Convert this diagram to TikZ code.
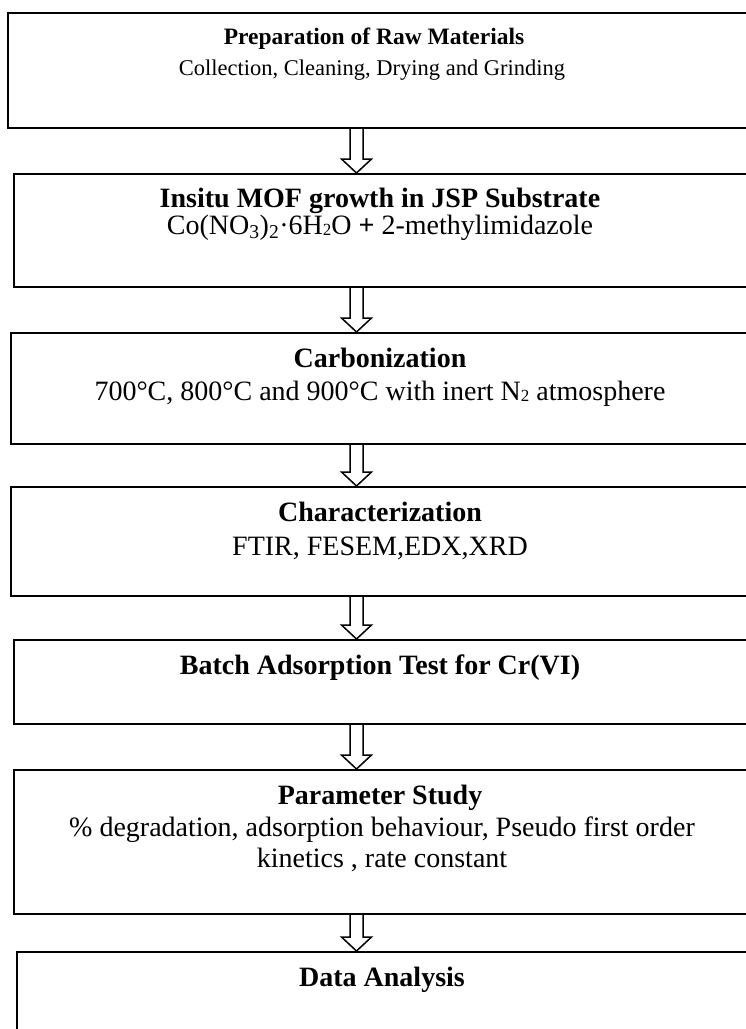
\documentclass[tikz,border=0pt]{standalone}
\usepackage{fontspec}
\setmainfont{Liberation Serif}
\usetikzlibrary{calc}
\newcommand{\smallsub}[1]{\raisebox{-1pt}{\fontsize{17}{17}\selectfont #1}}
\begin{document}
\begin{tikzpicture}[x=1pt,y=-1pt,
  box/.style={draw, line width=2pt, anchor=north west, inner sep=0pt},
  ttl/.style={font=\bfseries\fontsize{28}{32}\selectfont, anchor=base, inner sep=0pt},
  txt/.style={font=\fontsize{28}{32}\selectfont, anchor=base, inner sep=0pt},
  ttlA/.style={font=\bfseries\fontsize{23.5}{28}\selectfont, anchor=base, inner sep=0pt},
  txtA/.style={font=\fontsize{22.5}{28}\selectfont, anchor=base, inner sep=0pt},
  flow/.style={draw, line width=1.5pt, line join=miter}]
\clip (0,0) rectangle (746,1029);
\fill[white] (0,0) rectangle (746,1029);
% boxes
\node[box, minimum width=753pt, minimum height=115pt] (b1) at (7,12) {};
\node[box, minimum width=747pt, minimum height=113pt] (b2) at (13,173) {};
\node[box, minimum width=750pt, minimum height=111pt] (b3) at (10,332) {};
\node[box, minimum width=750pt, minimum height=109pt] (b4) at (10,486) {};
\node[box, minimum width=747pt, minimum height=84pt] (b5) at (13,639) {};
\node[box, minimum width=747pt, minimum height=144pt] (b6) at (13,769) {};
\node[box, minimum width=744pt, minimum height=100pt] (b7) at (16,951) {};
% texts
\node[ttlA] (t1) at (374,44) {Preparation of Raw Materials};
\node[txtA] (s1) at (372,75) {Collection, Cleaning, Drying and Grinding};
\node[ttl] (t2) at (380,207) {Insitu MOF growth in JSP Substrate};
\node[txt] (s2) at (380,234) {Co(NO\textsubscript{3})\textsubscript{2}·6H\smallsub{2}O \textbf{+} 2-methylimidazole};
\node[ttl] (t3) at (380,367) {Carbonization};
\node[txt] (s3) at (380,400) {700°C, 800°C and 900°C with inert N\smallsub{2} atmosphere};
\node[ttl] (t4) at (380,521) {Characterization};
\node[txt] (s4) at (380,555) {FTIR, FESEM,EDX,XRD};
\node[ttl] (t5) at (380,674) {Batch Adsorption Test for Cr(VI)};
\node[ttl] (t6) at (380,804) {Parameter Study};
\node[txt] (s6a) at (382,836) {\% degradation, adsorption behaviour, Pseudo first order};
\node[txt] (s6b) at (382,867) {kinetics , rate constant};
\node[ttl] (t7) at (382,986) {Data Analysis};
% hollow arrows
\coordinate (ax) at (356.5,0);
\foreach \a/\b in {b1/b2,b2/b3,b3/b4,b4/b5,b5/b6,b6/b7}{
  \draw[flow] ($(\a.south -| ax)+(-6.5,0)$) -- ($(\b.north -| ax)+(-6.5,-14)$)
    -- ($(\b.north -| ax)+(-15,-14)$) -- (\b.north -| ax)
    -- ($(\b.north -| ax)+(15,-14)$) -- ($(\b.north -| ax)+(6.5,-14)$)
    -- ($(\a.south -| ax)+(6.5,0)$);
}
\end{tikzpicture}
\end{document}
